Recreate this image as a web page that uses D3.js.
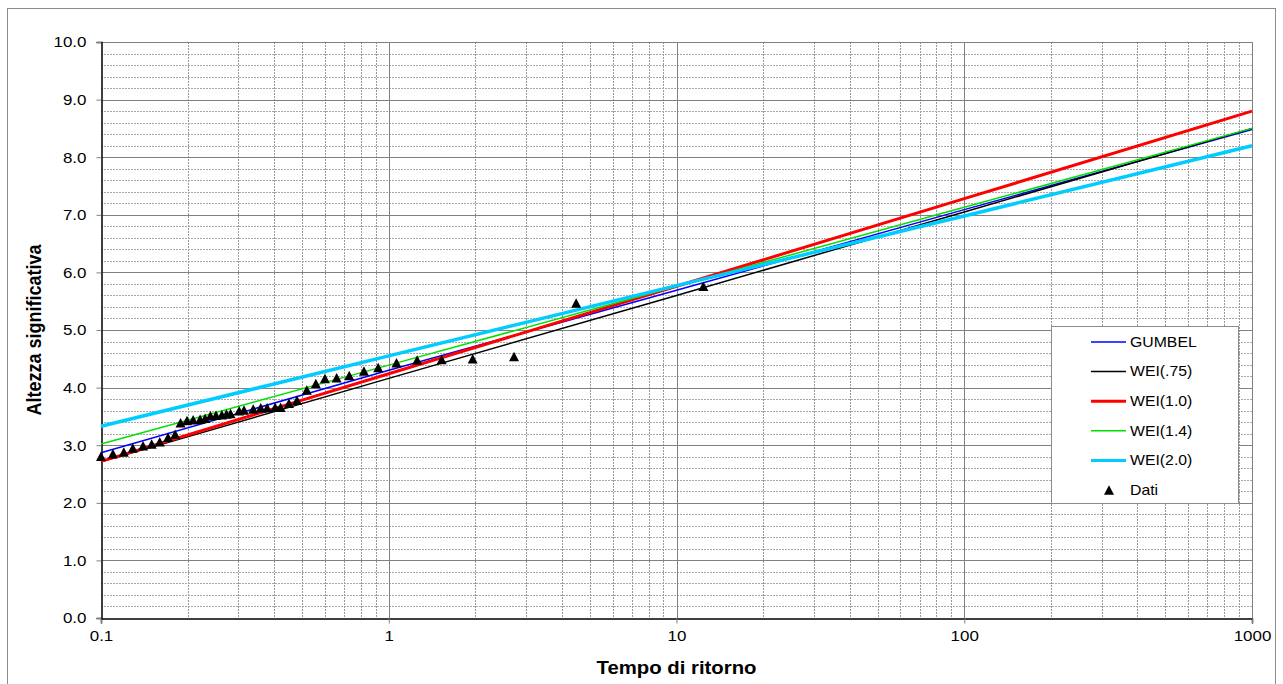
<!DOCTYPE html>
<html lang="it">
<head>
<meta charset="UTF-8">
<title>Altezza significativa - Tempo di ritorno</title>
<script src="https://cdnjs.cloudflare.com/ajax/libs/d3/7.8.5/d3.min.js"></script>
<style>
    body { margin: 0; padding: 0; background: #fff; font-family: "Liberation Sans", Arial, sans-serif; }
    #chart { width: 1283px; height: 684px; }
</style>
</head>
<body>
<div id="chart"></div>
<script>
// return periods at which the fitted lines were read
const lineT = [0.1, 1, 10, 100, 1000];

// fitted distributions
const seriesNames = ["GUMBEL", "WEI(.75)", "WEI(1.0)", "WEI(1.4)", "WEI(2.0)"];
const gumbel = [2.87, 4.30, 5.69, 7.09, 8.48];
const wei075 = [2.71, 4.16, 5.60, 7.05, 8.50];
const wei100 = [2.72, 4.24, 5.76, 7.28, 8.80];
const wei140 = [3.02, 4.39, 5.76, 7.13, 8.50];
const wei200 = [3.33, 4.55, 5.77, 6.98, 8.20];

// observed data
const datiT = [0.100, 0.110, 0.120, 0.129, 0.140, 0.150, 0.160, 0.171, 0.181, 0.189,
               0.199, 0.209, 0.221, 0.230, 0.240, 0.251, 0.263, 0.273, 0.282, 0.302,
               0.314, 0.338, 0.359, 0.378, 0.403, 0.421, 0.450, 0.480, 0.519, 0.558,
               0.600, 0.659, 0.729, 0.820, 0.919, 1.064, 1.255, 1.527, 1.958, 2.725,
               4.48, 12.4];
const datiH = [2.81, 2.85, 2.88, 2.95, 2.99, 3.02, 3.06, 3.14, 3.19, 3.39,
               3.43, 3.44, 3.45, 3.47, 3.51, 3.52, 3.53, 3.54, 3.55, 3.60,
               3.61, 3.63, 3.65, 3.65, 3.66, 3.66, 3.73, 3.78, 3.96, 4.07,
               4.16, 4.17, 4.21, 4.29, 4.35, 4.43, 4.48, 4.49, 4.50, 4.54,
               5.47, 5.76];

// axis ticks
const xTicks = [0.1, 1, 10, 100, 1000];
const yTicks = [0, 1, 2, 3, 4, 5, 6, 7, 8, 9, 10];

const width = 1283, height = 684;
const margin = { left: 101, right: 31, top: 42, bottom: 66 };
const stretch = 1.13; // the original picture is a bit wider than tall

const svg = d3.select("#chart").append("svg")
    .attr("width", width)
    .attr("height", height);

// widen a text element around its own anchor point
function widen(sel) {
    sel.each(function () {
        const t = d3.select(this);
        const tx = +t.attr("x") || 0, ty = +t.attr("y") || 0;
        t.attr("transform", `translate(${tx},${ty}) scale(${stretch},1) translate(${-tx},${-ty})`);
    });
}

// outer frame
svg.append("rect")
    .attr("x", 7.5).attr("y", 8.5)
    .attr("width", 1268).attr("height", 690)
    .attr("fill", "none")
    .attr("stroke", "#8c8c8c")
    .attr("stroke-width", 1);

const x = d3.scaleLog()
    .domain([0.1, 1000])
    .range([margin.left, width - margin.right]);

const y = d3.scaleLinear()
    .domain([0, 10])
    .range([height - margin.bottom, margin.top]);

// grid
const grid = svg.append("g");

const minorX = [];
xTicks.slice(0, -1).forEach(d => {
    for (let k = 2; k <= 9; k++) minorX.push(d * k);
});
grid.selectAll(".vminor").data(minorX).join("line")
    .attr("x1", d => Math.round(x(d)) + 0.5).attr("x2", d => Math.round(x(d)) + 0.5)
    .attr("y1", y(10)).attr("y2", y(0))
    .attr("stroke", "#9a9a9a").attr("stroke-dasharray", "2,1");

const minorY = d3.range(0, 50).map(i => i * 0.2).filter(d => Math.abs(d - Math.round(d)) > 0.01);
grid.selectAll(".hminor").data(minorY).join("line")
    .attr("x1", x(0.1)).attr("x2", x(1000))
    .attr("y1", d => Math.round(y(d)) + 0.5).attr("y2", d => Math.round(y(d)) + 0.5)
    .attr("stroke", "#a8a8a8").attr("stroke-dasharray", "2,1");

grid.selectAll(".vmajor").data(xTicks.slice(1)).join("line")
    .attr("x1", d => Math.round(x(d)) + 0.5).attr("x2", d => Math.round(x(d)) + 0.5)
    .attr("y1", y(10)).attr("y2", y(0))
    .attr("stroke", "#808080");

grid.selectAll(".hmajor").data(yTicks.slice(1)).join("line")
    .attr("x1", x(0.1)).attr("x2", x(1000))
    .attr("y1", d => Math.round(y(d)) + 0.5).attr("y2", d => Math.round(y(d)) + 0.5)
    .attr("stroke", "#808080");

// axes
const xAxis = d3.axisBottom(x)
    .tickValues(xTicks)
    .tickFormat(d3.format("~g"))
    .tickSize(5)
    .tickPadding(7);

const yAxis = d3.axisLeft(y)
    .tickValues(yTicks)
    .tickFormat(d3.format(".1f"))
    .tickSize(5)
    .tickPadding(10);

const gx = svg.append("g")
    .attr("transform", `translate(0,${Math.round(y(0)) + 0.5})`)
    .call(xAxis);
const gy = svg.append("g")
    .attr("transform", `translate(${Math.round(x(0.1)) + 0.5},0)`)
    .call(yAxis);

[gx, gy].forEach(g => {
    g.select(".domain").attr("stroke", "#000").attr("stroke-width", 1.5);
    g.selectAll(".tick line").attr("stroke", "#808080");
    g.selectAll(".tick text")
        .attr("fill", "#000")
        .style("font-family", "'Liberation Sans', Arial, sans-serif")
        .style("font-size", "15px")
        .call(widen);
});

// axis titles
svg.append("text")
    .attr("x", (x(0.1) + x(1000)) / 2)
    .attr("y", 674)
    .attr("text-anchor", "middle")
    .style("font-size", "18px")
    .style("font-weight", "bold")
    .text("Tempo di ritorno")
    .call(widen);

svg.append("text")
    .attr("transform", `translate(41,${(y(0) + y(10)) / 2}) scale(${stretch},1) rotate(-90)`)
    .attr("text-anchor", "middle")
    .style("font-size", "18px")
    .style("font-weight", "bold")
    .text("Altezza significativa");

// fitted lines
const seriesValues = [gumbel, wei075, wei100, wei140, wei200];
const colors = ["#0000ff", "#000000", "#ff0000", "#00e000", "#00ccff"];
const widths = [1.5, 1.5, 3, 1.5, 3.5];

const line = d3.line()
    .x(d => x(d[0]))
    .y(d => y(d[1]));

const plot = svg.append("g");
seriesValues.forEach((vals, i) => {
    plot.append("path")
        .datum(lineT.map((t, j) => [t, vals[j]]))
        .attr("d", line)
        .attr("fill", "none")
        .attr("stroke", colors[i])
        .attr("stroke-width", widths[i]);
});

// triangle marker centred on its bounding box
const boxTriangle = {
    draw(context, size) {
        const w = Math.sqrt(size * 2), h = w * 0.95;
        context.moveTo(0, -h / 2);
        context.lineTo(w / 2, h / 2);
        context.lineTo(-w / 2, h / 2);
        context.closePath();
    }
};
const tri = d3.symbol().type(boxTriangle).size(50);

plot.selectAll(".dato")
    .data(datiT.map((t, i) => [t, datiH[i]]))
    .join("path")
    .attr("transform", d => `translate(${x(d[0])},${y(d[1])})`)
    .attr("d", tri)
    .attr("fill", "#000");

// legend
const lg = svg.append("g");
lg.append("rect")
    .attr("x", 1051.5).attr("y", 326.5)
    .attr("width", 187).attr("height", 177)
    .attr("fill", "#fff")
    .attr("stroke", "#8c8c8c");

const legendY = d3.range(6).map(i => 342 + i * 29.6);
seriesNames.forEach((name, i) => {
    lg.append("line")
        .attr("x1", 1091).attr("x2", 1126)
        .attr("y1", legendY[i]).attr("y2", legendY[i])
        .attr("stroke", colors[i])
        .attr("stroke-width", widths[i] === 1.5 ? 1.5 : 3);
    lg.append("text")
        .attr("x", 1130)
        .attr("y", legendY[i])
        .attr("dy", "0.35em")
        .style("font-size", "14px")
        .text(name)
        .call(widen);
});
lg.append("path")
    .attr("transform", `translate(1109,${legendY[5]})`)
    .attr("d", tri)
    .attr("fill", "#000");
lg.append("text")
    .attr("x", 1130)
    .attr("y", legendY[5])
    .attr("dy", "0.35em")
    .style("font-size", "14px")
    .text("Dati")
    .call(widen);
</script>
</body>
</html>
